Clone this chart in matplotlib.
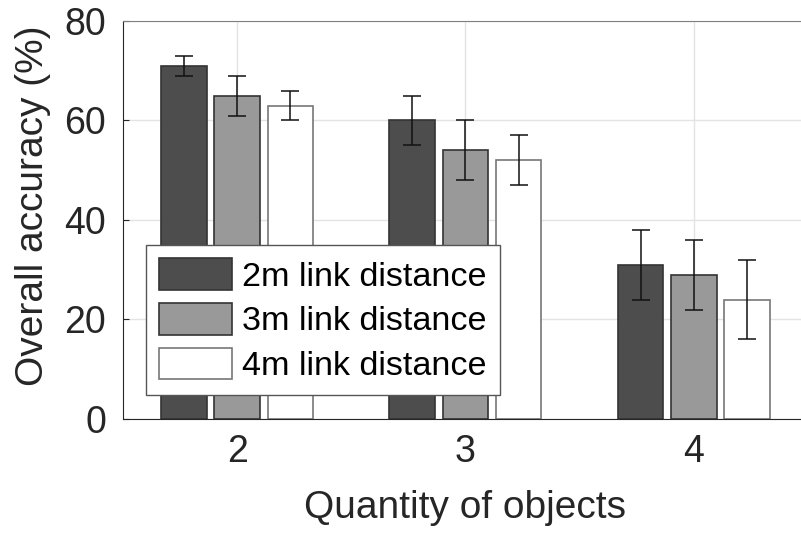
import numpy as np
import matplotlib
matplotlib.use('Agg')
import matplotlib.pyplot as plt

plt.rcParams['font.family'] = ['Liberation Sans', 'DejaVu Sans']

# data
groups = [2, 3, 4]
labels = ['2m link distance', '3m link distance', '4m link distance']
acc_2m = [71, 60, 31]
acc_3m = [65, 54, 29]
acc_4m = [63, 52, 24]
lo_2m = [69, 55, 24]
hi_2m = [73, 65, 38]
lo_3m = [61, 48, 22]
hi_3m = [69, 60, 36]
lo_4m = [60, 47, 16]
hi_4m = [66, 57, 32]

fig = plt.figure(figsize=(8.01, 5.34), dpi=100)
ax = fig.add_axes([0.1536, 0.2154, 0.855, 0.7453])

colors = ['#4d4d4d', '#999999', '#ffffff']
offsets = [-0.233, 0.0, 0.233]
x = np.array(groups, dtype=float)
series = [(acc_2m, lo_2m, hi_2m), (acc_3m, lo_3m, hi_3m), (acc_4m, lo_4m, hi_4m)]

for (vals, lo, hi), c, off, lab in zip(series, colors, offsets, labels):
    vals = np.array(vals)
    yerr = [vals - np.array(lo), np.array(hi) - vals]
    ax.bar(x + off, vals, width=0.2, color=c, edgecolor='#333333' if c != '#ffffff' else '#777777',
           linewidth=1.2, label=lab, zorder=2)
    ax.errorbar(x + off, vals, yerr=yerr, fmt='none', ecolor='#111111',
                elinewidth=1.1, capsize=6.5, capthick=1.1, zorder=3)

ax.set_xlim(1.5, 4.5)
ax.set_ylim(0, 80)
ax.set_xticks(groups)
ax.set_yticks([0, 20, 40, 60, 80])
ax.tick_params(direction='in', length=4, labelsize=27, colors='#262626')
ax.tick_params(axis='y', pad=12)
ax.tick_params(axis='x', pad=11)
ax.grid(True, color='#e3e3e3', linewidth=1, zorder=0)
ax.set_axisbelow(True)
for s in ['left', 'bottom']:
    ax.spines[s].set_color('#262626')
for s in ['top', 'right']:
    ax.spines[s].set_color('#808080')

ax.set_xlabel('Quantity of objects', fontsize=28, color='#262626', labelpad=14)
ax.set_ylabel('Overall accuracy (%)', fontsize=28, color='#262626')
ax.yaxis.set_label_coords(-0.105, 0.535)

leg = ax.legend(loc='lower left', bbox_to_anchor=(0.033, 0.06), fontsize=24.6,
                handlelength=2.15, handleheight=1.05, labelspacing=0.3,
                handletextpad=0.3, borderpad=0.38, borderaxespad=0,
                fancybox=False, framealpha=1, edgecolor='#555555')
leg.get_frame().set_linewidth(1)

fig.savefig('out.png', dpi=100)
